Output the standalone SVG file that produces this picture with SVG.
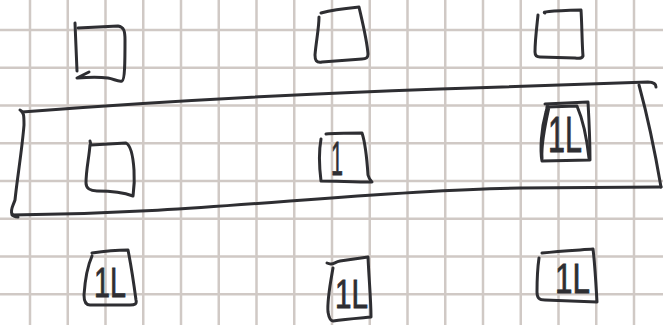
<svg xmlns="http://www.w3.org/2000/svg" width="663" height="325" viewBox="0 0 663 325">
<style>
.grid{stroke:#d0c9c5;stroke-width:2.5;fill:none}
.ink{stroke:#2e2e32;stroke-width:3;fill:none;stroke-linecap:round;stroke-linejoin:round}
.hand{font-family:"Liberation Sans",Arial,sans-serif;fill:#2e2e32;stroke:#2e2e32;stroke-width:0.8}
</style>
<rect width="663" height="325" fill="#ffffff"/>
<g id="grid" class="grid">
<path d="M30,0V325M67.75,0V325M105.5,0V325M143.25,0V325M181,0V325M218.75,0V325M256.5,0V325M294.25,0V325M332,0V325M369.75,0V325M407.5,0V325M445.25,0V325M483,0V325M520.75,0V325M558.5,0V325M596.25,0V325M634,0V325"/>
<path d="M0,30H663M0,67.75H663M0,105.5H663M0,143.25H663M0,181H663M0,218.75H663M0,256.5H663M0,294.25H663"/>
</g>
<g id="band" class="ink">
<path d="M22,112 C150,102 300,94 440,89 C530,86 600,83 648,82 C653,82 656,84 656,87"/>
<path d="M639,85 C648,118 655,152 661,187"/>
<path d="M12,215 C120,214 200,208 290,201 C380,194 450,189 520,188 L661,187"/>
<path d="M20,110 C24,112 24,116 24,125 C22,150 17,180 15,200 C13,206 10,210 12,214 C13,216 15,217 18,217"/>
</g>
<g id="box-top-left" class="ink">
<path d="M75,23 L77,71"/>
<path d="M89,72 L77,78 C90,77 100,77 108,78 C114,79 118,82 122,81 C125,80 125,60 125,40 C125,31 124,27 118,26 L78,28"/>
</g>
<g id="box-top-middle" class="ink">
<path d="M321,13 C335,9 348,8 359,7 C362,20 367,40 368,54 C368,58 366,59 362,59 L322,62 C316,63 315,60 315,55 C316,42 319,28 319,17"/>
</g>
<g id="box-top-right" class="ink">
<path d="M545,13 C542,12 547,11 581,10 C582,25 582,45 583,56 C582,58 580,59 575,58 L540,57 C536,57 535,55 535,52 C535,40 537,25 538,15"/>
</g>
<g id="box-mid-left" class="ink">
<path d="M90,141 L91,145 L126,143 C130,145 133,155 134,170 C135,185 133,195 133,196 C125,193 110,191 97,191 C90,191 86,188 86,183 C86,170 89,158 90,145"/>
</g>
<g id="box-mid-middle">
<path class="ink" d="M326,134 C334,133 350,133 362,133 C366,145 367,160 368,175 C369,179 371,181 372,182 C355,182 335,181 321,181 C319,165 319,150 321,139"/>
<text class="hand" x="331" y="175" font-size="48" textLength="12" lengthAdjust="spacingAndGlyphs">1</text>
</g>
<g id="box-mid-right">
<path class="ink" d="M545,104 L588,102 C589,120 590,140 590,160 L542,161 C540,150 541,130 546,112 L548,104"/>
<path class="ink" d="M547,107 L577,106 C583,120 587,140 589,158 M549,107 C545,125 541,145 542,158"/>
<text class="hand" x="548" y="152" font-size="50" textLength="34" lengthAdjust="spacingAndGlyphs">1L</text>
</g>
<g id="box-bottom-left">
<path class="ink" d="M92,253 C105,251 118,250 128,250 C131,265 134,285 136,300 C137,304 135,305 130,305 L90,305 C86,305 84,302 84,295 C85,280 88,265 92,256"/>
<text class="hand" x="94" y="297" font-size="42" textLength="32" lengthAdjust="spacingAndGlyphs">1L</text>
</g>
<g id="box-bottom-middle">
<path class="ink" d="M327,263 C333,266 334,262 340,261 L368,257 C369,280 371,300 371,317 C360,318 345,319 333,321 C331,321 329,318 328,312 C327,300 330,285 333,268"/>
<text class="hand" x="335" y="308" font-size="40" textLength="33" lengthAdjust="spacingAndGlyphs">1L</text>
</g>
<g id="box-bottom-right">
<path class="ink" d="M542,253 C560,251 580,250 593,249 C595,265 596,285 597,302 L545,300 C539,300 537,298 537,292 C537,280 538,265 539,258"/>
<text class="hand" x="555" y="293" font-size="43" textLength="35" lengthAdjust="spacingAndGlyphs">1L</text>
</g>
</svg>
